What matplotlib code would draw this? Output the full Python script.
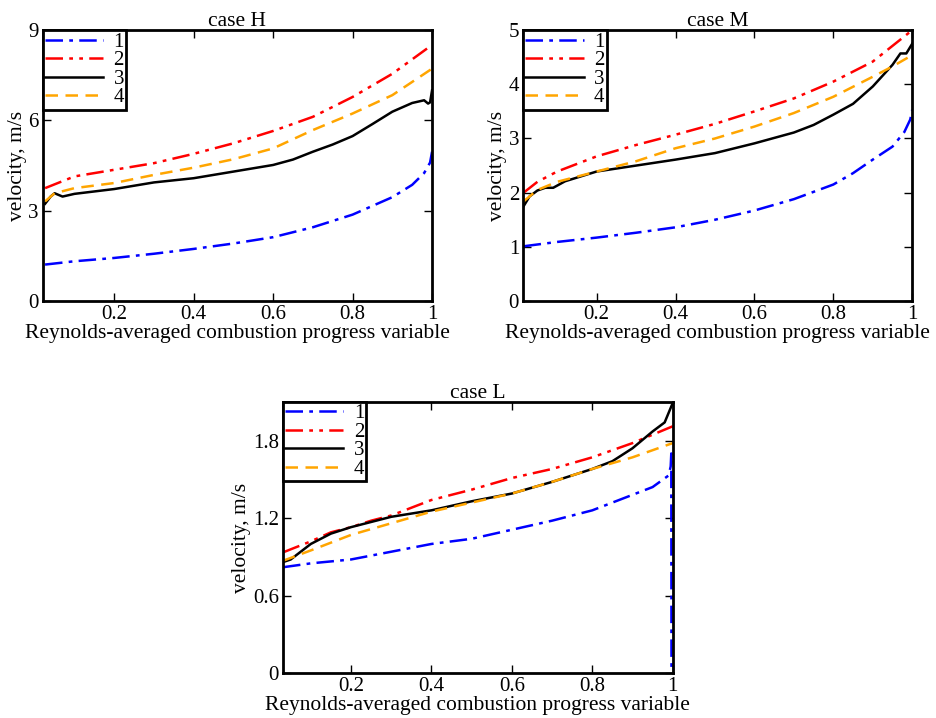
import matplotlib
matplotlib.use("Agg")
import matplotlib.pyplot as plt

plt.rcParams['font.family'] = ['Liberation Serif', 'DejaVu Serif']

# case H
h_x1 = [0.026, 0.1, 0.2, 0.3, 0.4, 0.5, 0.6, 0.7, 0.8, 0.9, 0.95, 0.98, 0.995, 1.0]
h_y1 = [1.21, 1.32, 1.43, 1.57, 1.73, 1.91, 2.12, 2.45, 2.87, 3.45, 3.86, 4.25, 4.6, 4.96]
h_x2 = [0.026, 0.1, 0.2, 0.3, 0.4, 0.5, 0.6, 0.7, 0.8, 0.9, 1.0]
h_y2 = [3.75, 4.14, 4.36, 4.58, 4.89, 5.24, 5.65, 6.12, 6.78, 7.55, 8.51]
h_x3 = [0.026, 0.04, 0.05, 0.07, 0.1, 0.2, 0.3, 0.4, 0.5, 0.6, 0.65, 0.7, 0.75, 0.8, 0.85,
        0.9, 0.95, 0.98, 0.99, 0.995, 1.0]
h_y3 = [3.23, 3.47, 3.58, 3.47, 3.56, 3.72, 3.94, 4.08, 4.30, 4.52, 4.70, 4.96, 5.20, 5.48,
        5.88, 6.29, 6.58, 6.67, 6.56, 6.60, 7.0]
h_x4 = [0.026, 0.05, 0.1, 0.2, 0.3, 0.4, 0.5, 0.6, 0.7, 0.8, 0.9, 1.0]
h_y4 = [3.31, 3.58, 3.75, 3.92, 4.19, 4.43, 4.71, 5.07, 5.68, 6.23, 6.84, 7.72]

# case M
m_x1 = [0.015, 0.1, 0.2, 0.3, 0.4, 0.5, 0.6, 0.7, 0.8, 0.85, 0.9, 0.95, 0.98, 0.995, 1.0]
m_y1 = [1.01, 1.09, 1.17, 1.26, 1.36, 1.50, 1.67, 1.88, 2.15, 2.36, 2.61, 2.85, 3.12, 3.35, 3.53]
m_x2 = [0.015, 0.05, 0.1, 0.2, 0.3, 0.4, 0.5, 0.6, 0.7, 0.8, 0.9, 1.0]
m_y2 = [2.0, 2.2, 2.39, 2.67, 2.88, 3.07, 3.27, 3.50, 3.74, 4.05, 4.42, 5.0]
m_x3 = [0.015, 0.03, 0.05, 0.07, 0.09, 0.12, 0.2, 0.3, 0.4, 0.5, 0.6, 0.7, 0.75, 0.8, 0.85,
        0.9, 0.95, 0.97, 0.985, 0.99, 1.0]
m_y3 = [1.75, 1.93, 2.04, 2.09, 2.09, 2.21, 2.39, 2.50, 2.61, 2.73, 2.91, 3.11, 3.25, 3.44, 3.64,
        3.96, 4.36, 4.57, 4.57, 4.63, 4.75]
m_x4 = [0.015, 0.05, 0.1, 0.2, 0.3, 0.4, 0.5, 0.6, 0.7, 0.8, 0.9, 0.95, 1.0]
m_y4 = [1.84, 2.05, 2.2, 2.39, 2.58, 2.82, 3.0, 3.22, 3.47, 3.77, 4.14, 4.33, 4.54]

# case L
l_x1 = [0.031, 0.1, 0.2, 0.3, 0.4, 0.5, 0.6, 0.7, 0.8, 0.9, 0.95, 0.99, 0.995, 0.9965, 0.997]
l_y1 = [0.82, 0.85, 0.88, 0.94, 1.0, 1.04, 1.11, 1.18, 1.26, 1.38, 1.44, 1.53, 1.6, 1.7, 0.0]
l_x2 = [0.031, 0.1, 0.15, 0.2, 0.25, 0.3, 0.4, 0.5, 0.6, 0.7, 0.8, 0.9, 1.0]
l_y2 = [0.935, 1.02, 1.09, 1.13, 1.18, 1.22, 1.34, 1.42, 1.51, 1.58, 1.67, 1.78, 1.91]
l_x3 = [0.031, 0.05, 0.075, 0.1, 0.15, 0.2, 0.3, 0.4, 0.5, 0.6, 0.7, 0.8, 0.85, 0.9, 0.95,
        0.98, 1.0]
l_y3 = [0.86, 0.88, 0.94, 1.0, 1.08, 1.13, 1.21, 1.26, 1.33, 1.39, 1.48, 1.58, 1.64, 1.74,
        1.87, 1.94, 2.09]
l_x4 = [0.031, 0.1, 0.2, 0.3, 0.4, 0.5, 0.6, 0.7, 0.8, 0.9, 1.0]
l_y4 = [0.87, 0.95, 1.07, 1.16, 1.25, 1.32, 1.39, 1.48, 1.58, 1.67, 1.78]

labels = ["1", "2", "3", "4"]

STYLES = [
    dict(color="blue", dashes=(7, 2.5, 1.5, 2.5)),
    dict(color="red", dashes=(7, 2.5, 1.5, 2.5, 1.5, 2.5)),
    dict(color="black"),
    dict(color="orange", dashes=(5, 3)),
]


def draw_panel(ax, title, series, xmin, ymax, yticks, yticklabels):
    for (x, y), lab, st in zip(series, labels, STYLES):
        st = dict(st)
        dashes = st.pop("dashes", None)
        line, = ax.plot(x, y, lw=1.8, label=lab, **st)
        if dashes:
            line.set_dashes(dashes)
    ax.set_xlim(xmin, 1.0)
    ax.set_ylim(0, ymax)
    ax.set_xticks([0.2, 0.4, 0.6, 0.8, 1.0])
    ax.set_xticklabels(["0.2", "0.4", "0.6", "0.8", "1"])
    ax.set_yticks(yticks)
    ax.set_yticklabels(yticklabels)
    ax.tick_params(direction="in", top=True, right=True, length=6, width=1,
                   labelsize=15, pad=3)
    for sp in ax.spines.values():
        sp.set_linewidth(2)
    ax.set_title(title, fontsize=15.5, pad=3)
    ax.set_xlabel("Reynolds-averaged combustion progress variable", fontsize=15.5, labelpad=0)
    ax.set_ylabel("velocity, m/s", fontsize=15.5, labelpad=1)
    leg = ax.legend(loc="upper left", borderaxespad=0, fancybox=False, framealpha=1,
                    edgecolor="black", fontsize=15, handlelength=2.8, handletextpad=0.5,
                    labelspacing=-0.05, borderpad=0.1)
    leg.get_frame().set_linewidth(2)


fig = plt.figure(figsize=(9.36, 7.18), dpi=100)
ax_h = fig.add_axes([0.0456, 0.5808, 0.416, 0.3772])
ax_m = fig.add_axes([0.559, 0.5808, 0.4156, 0.3772])
ax_l = fig.add_axes([0.3024, 0.0623, 0.4163, 0.3782])

draw_panel(ax_h, "case H",
           [(h_x1, h_y1), (h_x2, h_y2), (h_x3, h_y3), (h_x4, h_y4)],
           0.02, 9, [0, 3, 6, 9], ["0", "3", "6", "9"])
draw_panel(ax_m, "case M",
           [(m_x1, m_y1), (m_x2, m_y2), (m_x3, m_y3), (m_x4, m_y4)],
           0.014, 5, [0, 1, 2, 3, 4, 5], ["0", "1", "2", "3", "4", "5"])
draw_panel(ax_l, "case L",
           [(l_x1, l_y1), (l_x2, l_y2), (l_x3, l_y3), (l_x4, l_y4)],
           0.031, 2.1, [0, 0.6, 1.2, 1.8], ["0", "0.6", "1.2", "1.8"])

fig.savefig("out.png", dpi=100)
